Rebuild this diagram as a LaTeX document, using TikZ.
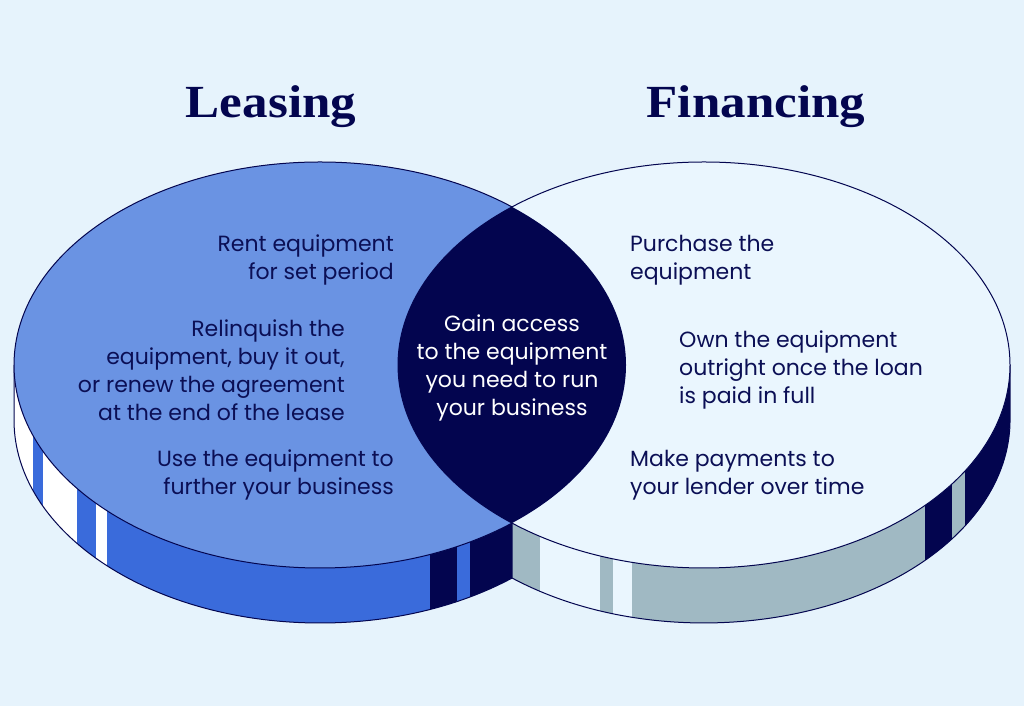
\documentclass[tikz,border=0pt]{standalone}
\usepackage{fontspec}
\setmainfont{Poppins}
\newfontfamily\titlefont[FakeStretch=1.11]{Liberation Serif}
\definecolor{bgblue}{HTML}{E6F3FC}
\definecolor{leasefill}{HTML}{6A93E3}
\definecolor{leaseside}{HTML}{3A6BDB}
\definecolor{navy}{HTML}{03054F}
\definecolor{financefill}{HTML}{EAF6FE}
\definecolor{financeside}{HTML}{A0B9C3}
\definecolor{inktxt}{HTML}{0B0F55}
\begin{document}
\begin{tikzpicture}[x=1pt, y=1pt,
		body/.style={font=\fontsize{22}{28}\selectfont, text=inktxt, inner sep=0pt},
		heading/.style={font=\titlefont\bfseries\fontsize{46}{50}\selectfont, text=navy, inner sep=0pt, anchor=base},
		rim/.style={draw=navy, line width=1pt}]
		\fill[bgblue] (0,0) rectangle (1024,706);
		\useasboundingbox (0,0) rectangle (1024,706);
		
		\begin{scope}
			\clip (14,341) -- (14,286) arc[start angle=180, end angle=360, x radius=306, y radius=203] -- (626,341) arc[start angle=0, end angle=-180, x radius=306, y radius=203] -- cycle;
			\foreach \a/\b/\c in {14/33/white, 33/43/leaseside, 43/77/white, 77/96/leaseside, 96/107/white, 107/430/leaseside, 430/457/navy, 457/470/leaseside, 470/627/navy}
				\fill[\c] (\a,0) rectangle (\b,400);
		\end{scope}
		\draw[rim] (14,341) -- (14,286) arc[start angle=180, end angle=360, x radius=306, y radius=203];
		
		\begin{scope}
			\clip (398,341) -- (398,286) arc[start angle=180, end angle=360, x radius=306, y radius=203] -- (1010,341) arc[start angle=0, end angle=-180, x radius=306, y radius=203] -- cycle;
			\foreach \a/\b/\c in {512/540/financeside, 540/600/financefill, 600/613/financeside, 613/632/financefill, 632/925/financeside, 925/952/navy, 952/965/financeside, 965/1011/navy}
				\fill[\c] (\a,0) rectangle (\b,400);
		\end{scope}
		\draw[rim] (512,183) -- (512,128) arc[start angle=231.13, end angle=360, x radius=306, y radius=203] -- (1010,341);
		
		\draw[rim, fill=leasefill] (320,341) ellipse[x radius=306, y radius=203];
		\draw[rim, fill=financefill] (704,341) ellipse[x radius=306, y radius=203];
		\begin{scope}
			\clip (320,341) ellipse[x radius=306, y radius=203];
			\fill[navy] (704,341) ellipse[x radius=306, y radius=203];
		\end{scope}
		
		\node[heading] (leasing) at (271,588) {Leasing};
		\node[heading] (financing) at (756,588) {Financing};
		
		\node[body, anchor=east, align=right] (rent) at (394,446) {Rent equipment\\for set period};
		\node[body, anchor=east, align=right] (relinquish) at (345,336) {Relinquish the\\equipment, buy it out,\\or renew the agreement\\at the end of the lease};
		\node[body, anchor=east, align=right] (use) at (394,231) {Use the equipment to\\further your business};
		\node[body, text=white, align=center] (gain) at (512,338) {Gain access\\to the equipment\\you need to run\\your business};
		\node[body, anchor=west, align=left] (purchase) at (630,446) {Purchase the\\equipment};
		\node[body, anchor=west, align=left] (own) at (679,336) {Own the equipment\\outright once the loan\\is paid in full};
		\node[body, anchor=west, align=left] (pay) at (630,231) {Make payments to\\your lender over time};
		
	\end{tikzpicture}
\end{document}
